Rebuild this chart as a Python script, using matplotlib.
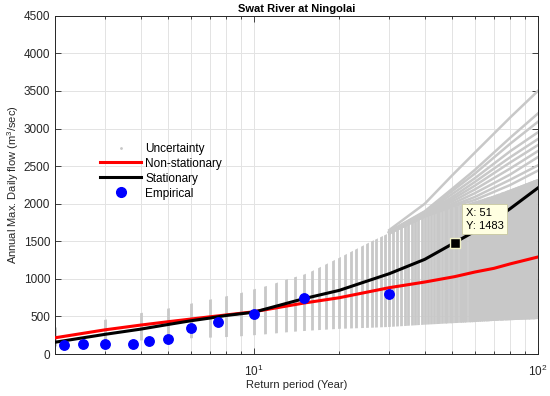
import numpy as np
import matplotlib
matplotlib.use("Agg")
import matplotlib.pyplot as plt
from matplotlib.lines import Line2D
from matplotlib.patches import Polygon

plt.rcParams['font.family'] = ['Liberation Sans', 'DejaVu Sans']
plt.rcParams['mathtext.fontset'] = 'custom'
plt.rcParams['mathtext.rm'] = 'Liberation Sans'
plt.rcParams['mathtext.it'] = 'Liberation Sans:italic'

# uncertainty envelope
unc_T = [2, 3, 4, 5, 6, 7, 8, 9, 10, 11, 12, 13, 14, 15, 16, 20, 26, 30, 40, 50, 60, 70, 80, 100]
unc_low = [100, 150, 180, 200, 210, 218, 226, 236, 250, 262, 275, 288, 298, 306, 313, 335,
           350, 360, 390, 410, 425, 440, 450, 465]
unc_high = [350, 456, 544, 605, 669, 723, 767, 811, 860, 900, 944, 989, 1024, 1056, 1100, 1280,
            1500, 1610, 1830, 1950, 2030, 2110, 2190, 2330]

# upper sample curves that fan out
fan_T = [30, 40, 50, 60, 80, 100]
fan_1 = [1650, 2000, 2380, 2680, 3150, 3500]
fan_2 = [1630, 1900, 2200, 2450, 2880, 3200]
fan_3 = [1625, 1890, 2170, 2400, 2800, 3090]
fan_4 = [1620, 1880, 2130, 2340, 2700, 2950]
fan_5 = [1615, 1870, 2090, 2290, 2620, 2860]
fan_6 = [1610, 1860, 2060, 2240, 2550, 2780]
fan_7 = [1610, 1850, 2030, 2190, 2470, 2700]
fan_8 = [1610, 1840, 2000, 2140, 2390, 2620]
fan_9 = [1610, 1835, 1975, 2090, 2320, 2510]
fan_10 = [1610, 1830, 1960, 2050, 2250, 2440]
fans = [fan_1, fan_2, fan_3, fan_4, fan_5, fan_6, fan_7, fan_8, fan_9, fan_10]

# fitted curves
curve_T = [2, 3, 4, 5, 6, 7, 8, 10, 15, 20, 30, 40, 51, 60, 70, 80, 100]
stat_q = [157, 262, 331, 393, 442, 478, 513, 556, 736, 847, 1069, 1260, 1483, 1633, 1780, 1936, 2210]
nonstat_q = [216, 322, 385, 430, 465, 495, 520, 562, 678, 749, 883, 958, 1030, 1091, 1140, 1200, 1291]

# empirical points
emp_T = [30/14, 2.5, 3, 3.75, 30/7, 5, 6, 7.5, 10, 15, 30]
emp_q = [125, 131, 131, 140, 171, 202, 340, 424, 535, 744, 802]

tip_T = 51
tip_q = 1483

gray = '#c8c8c8'

fig = plt.figure(figsize=(5.5, 3.96), dpi=100)
ax = fig.add_axes([0.1, 0.106, 0.878, 0.854])
ax.set_xscale('log')
ax.set_xlim(2, 100)
ax.set_ylim(0, 4500)

# vertical stripes of sample points at each integer return period
band = Polygon(np.column_stack([unc_T + unc_T[::-1], unc_low + unc_high[::-1]]),
               closed=True, transform=ax.transData)
stripes = ax.vlines(np.arange(2, 101), 0, 4500, colors=gray, lw=2.0, zorder=2)
stripes.set_clip_path(band)
for f in fans:
    ax.plot(fan_T, f, color=gray, lw=1.8, zorder=2)

ax.plot(curve_T, nonstat_q, color='red', lw=2.2, zorder=3)
ax.plot(curve_T, stat_q, color='black', lw=2.2, zorder=4)
ax.plot(emp_T, emp_q, 'o', color='blue', ms=6.8, zorder=5)

# data tip
ax.plot([tip_T], [tip_q], 's', color='black', mec='#f2f2c8', mew=1, ms=7.5, zorder=6)
ax.annotate('X: %d\nY: %d' % (tip_T, tip_q), xy=(tip_T, tip_q), xytext=(11, 12),
            textcoords='offset pixels', ha='left', va='bottom', fontsize=8, zorder=7,
            linespacing=1.35,
            bbox=dict(boxstyle='square,pad=0.3', fc='#ffffe1', ec='#c8c8a0', lw=0.6))

ax.set_yticks(np.arange(0, 4501, 500))
ax.set_xticks([10, 100])
ax.set_xticklabels([r'$\mathregular{10^{1}}$', r'$\mathregular{10^{2}}$'])
ax.grid(True, which='major', color='#e3e3e3', lw=0.7)
ax.grid(True, which='minor', axis='x', color='#e3e3e3', lw=0.7)
ax.set_axisbelow(True)
ax.tick_params(which='both', direction='in', top=True, right=True, colors='#262626',
               labelsize=8.5, width=0.6)
ax.tick_params(which='major', length=4)
ax.tick_params(which='minor', length=2.5)
ax.tick_params(axis='x', which='major', pad=7)
ax.tick_params(axis='x', which='minor', labelbottom=False)
for s in ax.spines.values():
    s.set_color('#262626')
    s.set_linewidth(0.7)

ax.set_title('Swat River at Ningolai', fontsize=8, fontweight='bold', pad=3)
ax.set_xlabel('Return period (Year)', fontsize=8, color='#262626', labelpad=1)
ax.set_ylabel('Annual Max. Daily flow (m$^3$/sec)', fontsize=8, color='#262626', labelpad=2)

handles = [Line2D([], [], ls='none', marker='.', ms=2, color=gray),
           Line2D([], [], color='red', lw=2.2),
           Line2D([], [], color='black', lw=2.2),
           Line2D([], [], ls='none', marker='o', ms=7, color='blue')]
labels = ['Uncertainty', 'Non-stationary', 'Stationary', 'Empirical']
ax.legend(handles, labels, loc='upper left', bbox_to_anchor=(0.093, 0.625), frameon=False,
          fontsize=8.5, handlelength=3.5, handletextpad=0.35, labelspacing=0.25,
          borderaxespad=0, borderpad=0)

fig.savefig('out.png', dpi=100)
